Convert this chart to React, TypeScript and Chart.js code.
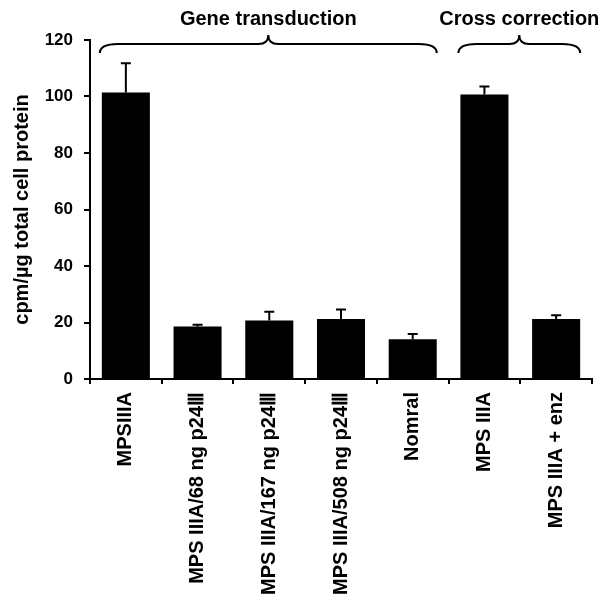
import React, { useEffect, useRef } from "react";
import { Chart, registerables } from "chart.js";

Chart.register(...registerables);

const categories = [
  "MPSIIIA",
  "MPS IIIA/68 ng p24Ⅲ",
  "MPS IIIA/167 ng p24Ⅲ",
  "MPS IIIA/508 ng p24Ⅲ",
  "Nomral",
  "MPS IIIA",
  "MPS IIIA + enz",
];
const values = [101.4, 18.6, 20.7, 21.2, 14.1, 100.7, 21.2];
const errors = [10.4, 0.6, 3.1, 3.4, 1.8, 2.8, 1.4];
const yTicks = [0, 20, 40, 60, 80, 100, 120];
const groupLabels = ["Gene transduction", "Cross correction"];
const groupStart = [0, 5];
const groupEnd = [4, 6];

const FONT = "'Liberation Sans', Arial, sans-serif";

const overlayPlugin = {
  id: "overlay",
  afterDatasetsDraw(chart: any) {
    const ctx = chart.ctx;
    const meta = chart.getDatasetMeta(0);
    const yScale = chart.scales.y;
    ctx.save();
    ctx.strokeStyle = "#000";
    ctx.lineWidth = 2;
    // error bars
    values.forEach((v, i) => {
      const bar = meta.data[i];
      const x = bar.x;
      const y0 = yScale.getPixelForValue(v);
      const y1 = yScale.getPixelForValue(v + errors[i]);
      ctx.beginPath();
      ctx.moveTo(x, y0);
      ctx.lineTo(x, y1);
      ctx.moveTo(x - 5, y1);
      ctx.lineTo(x + 5, y1);
      ctx.stroke();
    });
    // braces
    const top = chart.chartArea.top;
    const yTip = top + 13;
    const yFlat = top + 4;
    const yPeak = top - 5;
    groupLabels.forEach((label, g) => {
      const b0 = meta.data[groupStart[g]];
      const b1 = meta.data[groupEnd[g]];
      const x0 = b0.x - b0.width / 2 - 2;
      const x1 = b1.x + b1.width / 2;
      const xm = (x0 + x1) / 2;
      const r = 18;
      const r2 = 10;
      ctx.beginPath();
      ctx.moveTo(x0, yTip);
      ctx.quadraticCurveTo(x0, yFlat, x0 + r, yFlat);
      ctx.lineTo(xm - r2, yFlat);
      ctx.quadraticCurveTo(xm, yFlat, xm, yPeak);
      ctx.quadraticCurveTo(xm, yFlat, xm + r2, yFlat);
      ctx.lineTo(x1 - r, yFlat);
      ctx.quadraticCurveTo(x1, yFlat, x1, yTip);
      ctx.stroke();
      ctx.fillStyle = "#000";
      ctx.font = `bold 20px ${FONT}`;
      ctx.textAlign = "center";
      ctx.textBaseline = "middle";
      ctx.fillText(label, xm, 19);
    });
    ctx.restore();
  },
};

export default function App() {
  const ref = useRef<HTMLCanvasElement | null>(null);
  useEffect(() => {
    document.body.style.margin = "0";
    const chart = new Chart(ref.current as HTMLCanvasElement, {
      type: "bar",
      data: {
        labels: categories,
        datasets: [
          {
            data: values,
            backgroundColor: "#000",
            borderWidth: 0,
            categoryPercentage: 1,
            barPercentage: 0.67,
          },
        ],
      },
      options: {
        animation: false,
        responsive: true,
        maintainAspectRatio: false,
        layout: { padding: { top: 40, right: 11, left: 0, bottom: 0 } },
        plugins: { legend: { display: false }, tooltip: { enabled: false } },
        scales: {
          x: {
            grid: {
              display: true,
              drawOnChartArea: false,
              drawTicks: true,
              tickLength: 5,
              color: "#000",
              lineWidth: 2,
              offset: true,
            },
            border: { color: "#000", width: 2 },
            ticks: {
              autoSkip: false,
              maxRotation: 90,
              minRotation: 90,
              color: "#000",
              padding: 8,
              font: { family: FONT, size: 20, weight: "bold" },
            },
            afterFit(s: any) {
              s.height = 594 - 379;
            },
          },
          y: {
            min: 0,
            max: 120,
            afterBuildTicks(s: any) {
              s.ticks = yTicks.map((v) => ({ value: v }));
            },
            grid: {
              display: true,
              drawOnChartArea: false,
              drawTicks: true,
              tickLength: 6,
              color: "#000",
              lineWidth: 2,
            },
            border: { color: "#000", width: 2 },
            ticks: {
              color: "#000",
              padding: 11,
              font: { family: FONT, size: 17, weight: "bold" },
            },
            title: {
              display: true,
              text: "cpm/µg total cell protein",
              color: "#000",
              padding: { top: 10, bottom: 0 },
              font: { family: FONT, size: 20, weight: "bold" },
            },
            afterFit(s: any) {
              s.width = 90;
            },
          },
        },
      },
      plugins: [overlayPlugin],
    });
    return () => chart.destroy();
  }, []);
  return (
    <div style={{ position: "absolute", left: 0, top: 0, width: 603, height: 594 }}>
      <canvas ref={ref} />
    </div>
  );
}
